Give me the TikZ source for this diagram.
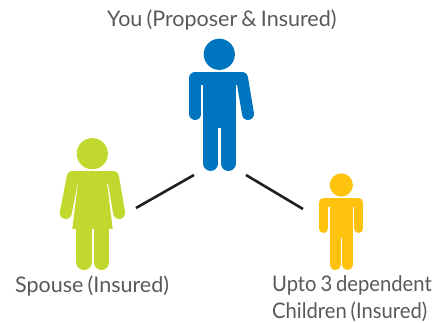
\documentclass[tikz,border=0pt]{standalone}
\usepackage{fontspec}
\setmainfont{Lato}[WordSpace=0.75]
\definecolor{bluefig}{HTML}{0075BF}
\definecolor{greenfig}{HTML}{C1D82F}
\definecolor{yellowfig}{HTML}{FFC20E}
\definecolor{linkcol}{HTML}{231F20}
\definecolor{labelcol}{HTML}{58595B}
\tikzset{
  limb/.style={line cap=round,line width=#1},
  link/.style={draw=linkcol,line width=2.6pt},
  lab/.style={text=labelcol,font=\fontsize{21.5}{21.5}\selectfont,inner sep=0pt,anchor=base west}
}
\begin{document}
\begin{tikzpicture}[x=1pt,y=-1pt]
\useasboundingbox (0,0) rectangle (440,323);
% blue figure
\begin{scope}[color=bluefig,fill=bluefig]
\fill (219.3,54.3) circle[radius=15.6];
\fill (195.3,72) rectangle (242,85);
\fill (203.3,80) rectangle (235.7,128);
\draw[limb=12pt] (195.3,78) -- (195.3,114);
\draw[limb=12pt] (242,78) -- (248,114);
\draw[limb=14.7pt] (210.7,120) -- (210.7,163.6);
\draw[limb=15pt] (228.2,120) -- (228.2,163.5);
\end{scope}
% green figure
\begin{scope}[color=greenfig,fill=greenfig]
\fill (92.3,153.7) circle[radius=15.6];
\fill (72.7,171) rectangle (113,184);
\fill (78.3,180) -- (106.7,180) -- (112.7,229) -- (72.3,229) -- cycle;
\draw[limb=12pt] (72.7,177) -- (65.8,213);
\draw[limb=12pt] (113,177) -- (119.2,213);
\draw[limb=15.4pt] (84,225) -- (84,262.3);
\draw[limb=15.4pt] (101.7,225) -- (101.7,262.3);
\end{scope}
% yellow figure
\begin{scope}[color=yellowfig,fill=yellowfig]
\fill (341.3,185) circle[radius=11.6];
\fill (323.5,198) rectangle (358.8,207.5);
\fill (330,203) rectangle (353,238);
\draw[limb=9pt] (323.5,202.5) -- (323.5,228.5);
\draw[limb=9pt] (358.8,202.5) -- (358.8,228.5);
\draw[limb=10.7pt] (335.3,232) -- (335.3,264.7);
\draw[limb=10.7pt] (347.6,232) -- (347.6,264.7);
\end{scope}
% connectors
\coordinate (youL) at (194,175);
\coordinate (spouseEnd) at (136,208);
\coordinate (youR) at (246,175);
\coordinate (childEnd) at (303,209);
\draw[link] (youL) -- (spouseEnd);
\draw[link] (youR) -- (childEnd);
% labels
\node[lab] (you) at (107,27) {You (Proposer \& Insured)};
\node[lab] (spouse) at (15,293) {Spouse (Insured)};
\node[lab] (child1) at (272,292) {\scalebox{0.94}[1]{Upto 3 dependent}};
\node[lab] (child2) at (272,318.5) {\scalebox{0.94}[1]{Children (Insured)}};
\end{tikzpicture}
\end{document}
